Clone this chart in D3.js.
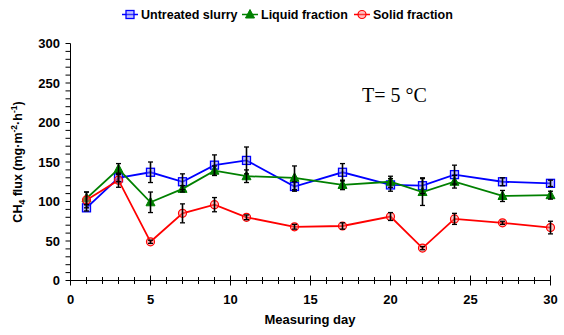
<!DOCTYPE html>
<html><head><meta charset="utf-8">
<script src="https://cdn.jsdelivr.net/npm/d3@7/dist/d3.min.js"></script>
<style>body{margin:0;background:#fff;}svg{display:block;}</style>
</head><body>
<svg id="c" width="564" height="335"></svg>
<script>
const days = [1, 3, 5, 7, 9, 11, 14, 17, 20, 22, 24, 27, 30];
const untreated = [92, 130, 137, 125, 146, 152, 119, 137, 121, 120, 134, 125, 123];
const untreatedErr = [4, 5, 13, 10, 13, 17, 6, 11, 8, 10, 12, 5, 4];
const liquid = [104, 141, 99, 116, 139, 132, 130, 121, 125, 112, 125, 107, 108];
const liquidErr = [8, 7, 13, 4, 6, 8, 15, 6, 7, 17, 8, 7, 5];
const solid = [102, 127, 49, 85, 96, 80, 68, 69, 81, 41, 78, 73, 67];
const solidErr = [10, 9, 2, 12, 9, 3, 3, 4, 5, 2, 7, 2, 8];
const xTicks = [0, 5, 10, 15, 20, 25, 30];
const yTicks = [0, 50, 100, 150, 200, 250, 300];
const seriesNames = ["Untreated slurry", "Liquid fraction", "Solid fraction"];

const svg = d3.select("#c");
const x = d3.scaleLinear().domain([0, 30]).range([70.5, 550.5]);
const y = d3.scaleLinear().domain([0, 300]).range([280.5, 43.5]);
const font = "'Liberation Sans', Arial, sans-serif";

// axes
const yAxis = svg.append("g");
yAxis.append("line").attr("x1", x(0)).attr("x2", x(0)).attr("y1", y(0)).attr("y2", y(300)).attr("stroke", "#000");
d3.range(0, 301, 10).forEach(v => {
  yAxis.append("line").attr("x1", x(0) - 5).attr("x2", x(0)).attr("y1", y(v)).attr("y2", y(v)).attr("stroke", "#000");
});
yTicks.forEach(v => {
  yAxis.append("text").attr("x", 60).attr("y", y(v) + 4.5).attr("text-anchor", "end")
    .attr("font-family", font).attr("font-weight", "bold").attr("font-size", 13).text(v);
});
const xAxis = svg.append("g");
xAxis.append("line").attr("x1", x(0)).attr("x2", x(30)).attr("y1", y(0)).attr("y2", y(0)).attr("stroke", "#000");
d3.range(0, 31, 1).forEach(v => {
  const len = v % 5 === 0 ? 5 : 3.5;
  xAxis.append("line").attr("x1", x(v)).attr("x2", x(v)).attr("y1", y(0) - len).attr("y2", y(0) + len).attr("stroke", "#000");
});
xTicks.forEach(v => {
  xAxis.append("text").attr("x", x(v)).attr("y", 304).attr("text-anchor", "middle")
    .attr("font-family", font).attr("font-weight", "bold").attr("font-size", 13).text(v);
});
svg.append("text").attr("x", 310).attr("y", 324).attr("text-anchor", "middle")
  .attr("font-family", font).attr("font-weight", "bold").attr("font-size", 13).text("Measuring day");

const yt = svg.append("text").attr("transform", "translate(22,162) rotate(-90)").attr("text-anchor", "middle")
  .attr("font-family", font).attr("font-weight", "bold").attr("font-size", 12.5);
yt.append("tspan").text("CH");
yt.append("tspan").attr("font-size", 8.5).attr("dy", 3).text("4");
yt.append("tspan").attr("dy", -3).text(" flux (mg\u00b7m");
yt.append("tspan").attr("font-size", 8.5).attr("dy", -5).text("-2");
yt.append("tspan").attr("dy", 5).text("\u00b7h");
yt.append("tspan").attr("font-size", 8.5).attr("dy", -5).text("-1");
yt.append("tspan").attr("dy", 5).text(")");

svg.append("text").attr("x", 362).attr("y", 102).attr("font-family", "'Liberation Serif', 'Times New Roman', serif")
  .attr("font-size", 20).text("T= 5 \u00b0C");

const series = [
  {name: seriesNames[0], vals: untreated, err: untreatedErr, color: "#0000ff", fill: "rgba(120,120,255,0.45)", shape: "square"},
  {name: seriesNames[1], vals: liquid, err: liquidErr, color: "#008000", fill: "#008000", shape: "triangle"},
  {name: seriesNames[2], vals: solid, err: solidErr, color: "#ff0000", fill: "rgba(255,120,120,0.45)", shape: "circle"}
];

function marker(g, s, cx, cy) {
  if (s.shape === "square") {
    g.append("rect").attr("x", cx - 4).attr("y", cy - 4).attr("width", 8).attr("height", 8)
      .attr("fill", s.fill).attr("stroke", s.color).attr("stroke-width", 1.3);
  } else if (s.shape === "triangle") {
    g.append("path").attr("d", `M${cx},${cy - 5}L${cx + 4.5},${cy + 3.5}L${cx - 4.5},${cy + 3.5}Z`)
      .attr("fill", s.fill).attr("stroke", s.color).attr("stroke-width", 1);
  } else {
    g.append("circle").attr("cx", cx).attr("cy", cy).attr("r", 4)
      .attr("fill", s.fill).attr("stroke", s.color).attr("stroke-width", 1.2);
  }
}

const line = d3.line().x((d, i) => x(days[i])).y(d => y(d));
series.forEach(s => {
  const g = svg.append("g");
  g.append("path").attr("d", line(s.vals)).attr("fill", "none").attr("stroke", s.color).attr("stroke-width", 1.8);
  s.vals.forEach((v, i) => marker(g, s, x(days[i]), y(v)));
});
// error bars on top
series.forEach(s => {
  const g = svg.append("g");
  s.vals.forEach((v, i) => {
    const cx = x(days[i]), t = y(v + s.err[i]), b = y(v - s.err[i]);
    g.append("line").attr("x1", cx).attr("x2", cx).attr("y1", t).attr("y2", b).attr("stroke", "#000").attr("stroke-width", 1.6);
    g.append("line").attr("x1", cx - 2.5).attr("x2", cx + 2.5).attr("y1", t).attr("y2", t).attr("stroke", "#000").attr("stroke-width", 1.3);
    g.append("line").attr("x1", cx - 2.5).attr("x2", cx + 2.5).attr("y1", b).attr("y2", b).attr("stroke", "#000").attr("stroke-width", 1.3);
  });
});

// legend
const legX = [122, 242, 354];
series.forEach((s, i) => {
  const g = svg.append("g");
  g.append("line").attr("x1", legX[i]).attr("x2", legX[i] + 16).attr("y1", 14.5).attr("y2", 14.5).attr("stroke", s.color).attr("stroke-width", 1.5);
  marker(g, s, legX[i] + 8, 14.5);
  g.append("text").attr("x", legX[i] + 19).attr("y", 19).attr("font-family", font).attr("font-weight", "bold")
    .attr("font-size", 12.5).text(s.name);
});
</script>
</body></html>
